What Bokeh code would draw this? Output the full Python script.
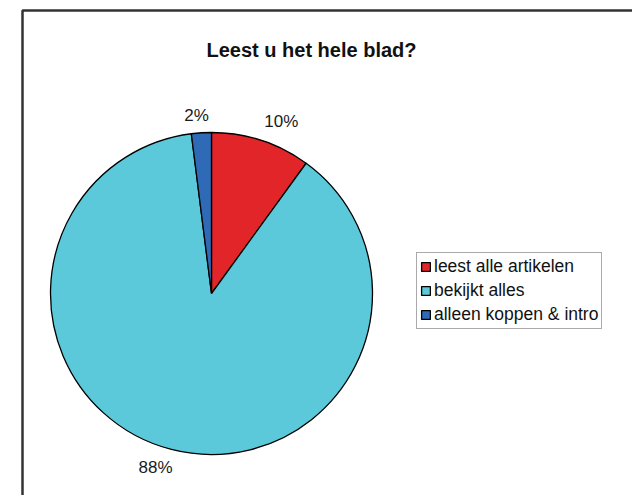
import math
from bokeh.plotting import figure
from bokeh.models import Range1d, Label, Legend, LegendItem
from bokeh.embed import file_html
from bokeh.resources import INLINE

# data
categories = ["leest alle artikelen", "bekijkt alles", "alleen koppen & intro"]
values = [10, 88, 2]
labels = ["10%", "88%", "2%"]
colors = ["#E22528", "#5BC9DA", "#2F6AB6"]

W, H = 632, 495
p = figure(width=W, height=H, output_backend="svg", toolbar_location=None,
           x_range=Range1d(0, W), y_range=Range1d(0, H), min_border=0)
p.axis.visible = False
p.grid.visible = False
p.outline_line_color = None
p.background_fill_color = "white"
p.border_fill_color = "white"

# outer chart frame
p.quad(left=[22], right=[W + 20], bottom=[-20], top=[H - 10],
       fill_color=None, line_color="#333333", line_width=2.5)

cx, cy, r = 211, H - 293, 161
total = sum(values)
start = 90.0
starts, ends = [], []
for v in values:
    starts.append(math.radians(start))
    start -= v / total * 360.0
    ends.append(math.radians(start))

renderers = []
for i in range(len(values)):
    rr = p.wedge(x=cx, y=cy, radius=r, start_angle=starts[i], end_angle=ends[i],
                 direction="clock", fill_color=colors[i], line_color="black",
                 line_width=1.3)
    renderers.append(rr)

# percentage labels (layout: offset from slice mid-angle)
label_angle_adj = [-4.1, -3.4, 1.2]   # degrees
label_dist = [185.5, 183, 178.5]
for i, lab in enumerate(labels):
    mid = (math.degrees(starts[i]) + math.degrees(ends[i])) / 2 + label_angle_adj[i]
    x = cx + label_dist[i] * math.cos(math.radians(mid))
    y = cy + label_dist[i] * math.sin(math.radians(mid))
    p.add_layout(Label(x=x, y=y, text=lab, text_align="center", text_baseline="middle",
                       text_font="Liberation Sans", text_font_size="17px",
                       text_color="#1a1a1a"))

p.add_layout(Label(x=311, y=H - 49, text="Leest u het hele blad?", text_align="center",
                   text_baseline="middle", text_font="Liberation Sans",
                   text_font_size="20px", text_font_style="bold", text_color="#111111"))

legend = Legend(items=[LegendItem(label=categories[i], renderers=[renderers[i]])
                       for i in range(len(categories))],
                location=(416, H - 329), orientation="vertical",
                padding=3, spacing=3, margin=0,
                label_height=19, glyph_height=11, glyph_width=11, label_standoff=3,
                label_text_font="Liberation Sans", label_text_font_size="17.5px",
                label_text_color="#111111",
                border_line_color="#555555", border_line_width=1.5,
                background_fill_alpha=1.0)
p.add_layout(legend, "center")

open("out.html", "w").write(file_html(p, INLINE))
